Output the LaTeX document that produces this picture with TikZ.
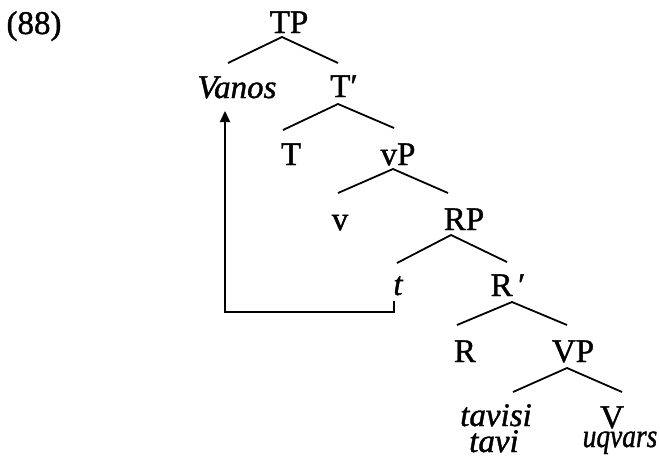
\documentclass[tikz,border=0pt]{standalone}
\usepackage{fontspec}
\setmainfont{Liberation Serif}[FakeBold=1.2]
\usetikzlibrary{arrows.meta}
\begin{document}
\begin{tikzpicture}[x=1pt,y=-1pt,
  lab/.style={anchor=base,inner sep=0pt,font=\fontsize{33}{36}\selectfont},
  ilab/.style={lab,font=\fontsize{33}{36}\selectfont\itshape},
  branch/.style={line width=1.8pt},
  mv/.style={line width=1.8pt,-{Triangle[length=11pt,width=10pt]}}]
\useasboundingbox (0,0) rectangle (660,466);
% labels
\node[lab] (ex) at (34,34) {(88)};
\node[lab] (TP) at (289,33) {TP};
\node[lab] (Tb) at (344,97) {T′};
\node[ilab] (Vanos) at (237,98) {Vanos};
\node[lab] (T) at (291,165) {T};
\node[lab] (vP) at (398,165) {vP};
\node[lab] (v) at (340,230) {v};
\node[lab] (RP) at (464,230) {RP};
\node[ilab] (t) at (398,295) {t};
\node[lab] (Rb) at (508,296) {R\,′};
\node[lab] (R) at (465,362) {R};
\node[lab] (VP) at (573,362) {VP};
\node[ilab] (tavisi) at (496,426) {tavisi};
\node[ilab] (tavi) at (494,452) {tavi};
\node[lab] (V) at (612,428) {V};
\node[ilab] (uqvars) at (620,447) {\scalebox{0.83}[1]{uqvars}};
% branch points
\coordinate (TPa) at (282,37);
\coordinate (Vanosa) at (228,63);
\coordinate (Tba) at (338,63);
\coordinate (Tbb) at (338,104);
\coordinate (Ta) at (283,130);
\coordinate (vPa) at (394,128);
\coordinate (vPb) at (393,169);
\coordinate (va) at (338,193);
\coordinate (RPa) at (448,193);
\coordinate (RPb) at (451,235);
\coordinate (ta) at (397,263);
\coordinate (Rba) at (507,262);
\coordinate (Rbb) at (512,302);
\coordinate (Ra) at (457,325);
\coordinate (VPa) at (567,325);
\coordinate (VPb) at (567,368);
\coordinate (tavisia) at (513,392);
\coordinate (Va) at (622,392);
% branches
\draw[branch] (Vanosa) -- (TPa) -- (Tba);
\draw[branch] (Ta) -- (Tbb) -- (vPa);
\draw[branch] (va) -- (vPb) -- (RPa);
\draw[branch] (ta) -- (RPb) -- (Rba);
\draw[branch] (Ra) -- (Rbb) -- (VPa);
\draw[branch] (tavisia) -- (VPb) -- (Va);
% movement arrow
\coordinate (tfoot) at (394,301);
\coordinate (corner1) at (394,312);
\coordinate (corner2) at (225,312);
\coordinate (Vanosfoot) at (225,111);
\draw[mv] (tfoot) -- (corner1) -- (corner2) -- (Vanosfoot);
\end{tikzpicture}
\end{document}
